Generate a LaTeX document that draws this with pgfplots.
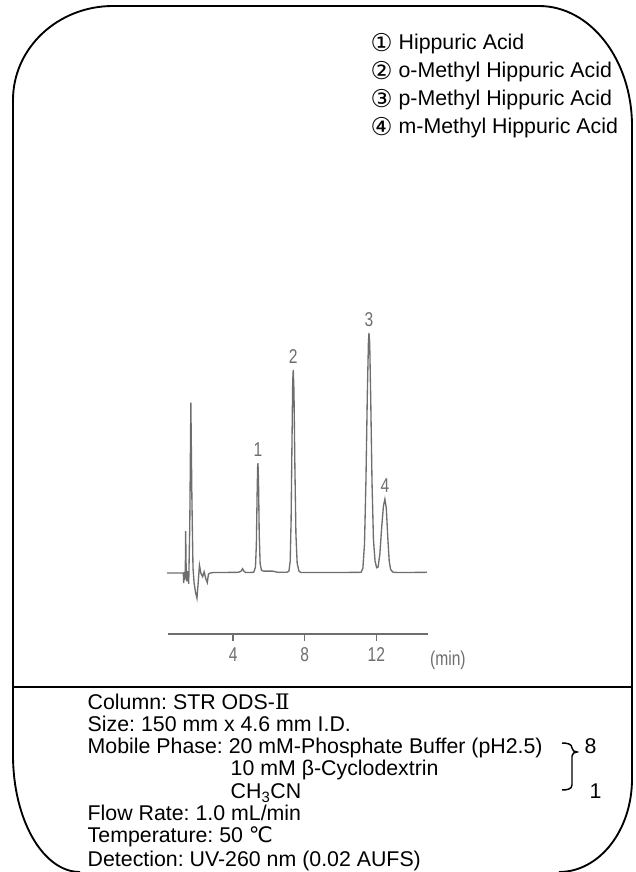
\documentclass[border=0pt]{standalone}
\usepackage{pgfplots}
\pgfplotsset{compat=1.18}
\usepackage{fontspec}
\setmainfont{Liberation Sans}
\newfontfamily\dejavu{DejaVu Sans}
\newfontfamily\djserif{DejaVu Serif}
\newfontfamily\narrow[FakeStretch=0.78]{Liberation Sans}
\definecolor{trace}{HTML}{6E6E6E}
\newcommand\txt{\frenchspacing\fontsize{16}{19}\selectfont}
\newcommand\lbl{\narrow\fontsize{15}{15}\selectfont}
\newcommand\cnum[1]{\raisebox{-0.05em}{\scalebox{1.15}{\dejavu #1}}}

\begin{document}
\begin{tikzpicture}[x=0.75pt,y=0.75pt]
\useasboundingbox (0,0) rectangle (636,872);
% rounded frame, pixel units with y up
\draw[line width=1.4pt] (80,0) arc[start angle=270,end angle=180,x radius=67,y radius=117]
  -- (13,772) arc[start angle=180,end angle=90,x radius=100,y radius=94]
  -- (539,866) arc[start angle=90,end angle=0,x radius=93,y radius=120]
  -- (632,93) arc[start angle=0,end angle=-90,x radius=73,y radius=93];
\draw[line width=1.1pt] (13,185) -- (632,185);

% peak legend
\node[anchor=base west,font=\txt] at (366,822) {\cnum{①} Hippuric Acid};
\node[anchor=base west,font=\txt] at (366,794) {\cnum{②} o-Methyl Hippuric Acid};
\node[anchor=base west,font=\txt] at (366,766) {\cnum{③} p-Methyl Hippuric Acid};
\node[anchor=base west,font=\txt] at (366,738) {\cnum{④} m-Methyl Hippuric Acid};

\begin{axis}[
  anchor=south west, at={(125.96pt,178.5pt)},
  x=13.425pt, y=1.8pt,
  xmin=0.36, xmax=14.89, ymin=-25.4, ymax=110,
  enlargelimits=false, clip=false,
  axis x line=bottom, axis y line=none,
  axis line style={-, line width=1.5pt, color=trace},
  xtick={4,8,12}, ytick=\empty,
  tick style={color=trace, line width=1pt},
  major tick length=5.25pt, tick align=outside,
  /pgf/number format/assume math mode=true,
  xticklabel style={font=\lbl, text=trace, yshift=-1.5pt},
]
\addplot[trace, line width=1pt] coordinates {
(0.31,0) (1.22,0) (1.24,-4.2) (1.27,0.5) (1.30,-3) (1.33,0) (1.35,17.5) (1.38,0)
(1.42,-3.5) (1.46,0.8) (1.52,-4.5) (1.58,20) (1.64,71) (1.70,30) (1.76,2)
(1.82,-4) (1.9,-8) (1.98,-10.5) (2.05,-4) (2.12,3.3) (2.2,0) (2.3,-1.5)
(2.38,0.5) (2.48,-2.5) (2.56,-4) (2.62,-0.5) (2.72,0) (2.9,0.2) (4.3,0.3)
(4.45,0.8) (4.53,1.8) (4.6,0.8) (4.7,0.2) (5.15,0.3) (5.25,2.5) (5.3,12)
(5.34,32) (5.37,44) (5.39,45.8) (5.42,38) (5.46,16) (5.51,4) (5.58,1.2)
(5.7,0.8) (6.2,0.8) (6.5,0.3) (7.0,0.3) (7.12,0.8) (7.19,5) (7.24,22)
(7.29,55) (7.33,80) (7.36,84.6) (7.40,76) (7.45,45) (7.51,16) (7.58,4)
(7.68,0.8) (7.8,0.2) (9.5,0.2) (11.15,0.3) (11.25,2) (11.34,12) (11.42,38)
(11.5,75) (11.56,96) (11.59,100) (11.63,96) (11.69,72) (11.76,38) (11.84,14)
(11.93,5) (12.02,2.2) (12.1,2.5) (12.2,8) (12.3,19) (12.4,28) (12.48,30.8)
(12.56,27) (12.64,15) (12.72,5) (12.8,1.5) (12.92,0.4) (13.2,0.2) (14.83,0.3)
};
\node[anchor=south,inner sep=0,yshift=4.5pt,text=trace,font=\lbl] at (axis cs:5.39,45.8) {1};
\node[anchor=south,inner sep=0,yshift=4.5pt,text=trace,font=\lbl] at (axis cs:7.36,84.6) {2};
\node[anchor=south,inner sep=0,yshift=4.5pt,text=trace,font=\lbl] at (axis cs:11.59,100) {3};
\node[anchor=south,inner sep=0,yshift=4.5pt,text=trace,font=\lbl] at (axis cs:12.49,30.8) {4};
\node[anchor=base,text=trace,font=\lbl] at (axis cs:16.0,-38.5) {(min)};
\end{axis}

% conditions
\node[anchor=base west,font=\txt] at (83,162) {Column: STR ODS-{\djserif Ⅱ}};
\node[anchor=base west,font=\txt] at (83,140) {Size: 150 mm x 4.6 mm I.D.};
\node[anchor=base west,font=\txt] at (83,118) {Mobile Phase: 20 mM-Phosphate Buffer (pH2.5)};
\node[anchor=base west,font=\txt] at (226,96) {10 mM β-Cyclodextrin};
\node[anchor=base west,font=\txt] at (226,73) {CH\textsubscript{3}CN};
\node[anchor=base west,font=\txt] at (83,51) {Flow Rate: 1.0 mL/min};
\node[anchor=base west,font=\txt] at (83,29) {Temperature: 50 {\dejavu ℃}};
\node[anchor=base west,font=\txt] at (83,6) {Detection: UV-260 nm (0.02 AUFS)};
\node[anchor=base west,font=\txt] at (580,118) {8};
\node[anchor=base west,font=\txt] at (585,73) {1};
\draw[line width=1.1pt] (562,129) to[out=0,in=90] (572,124) to[out=-90,in=180] (577,120)
  to[out=180,in=90] (572,116) -- (572,87) to[out=-90,in=0] (562,82);
\end{tikzpicture}
\end{document}
